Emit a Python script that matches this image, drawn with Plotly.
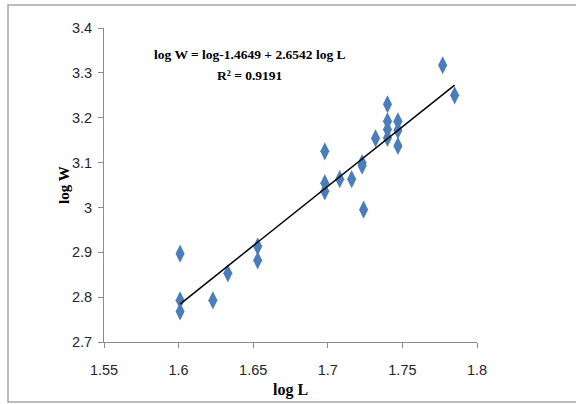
import plotly.graph_objects as go

# Data
log_L = [1.601, 1.601, 1.601, 1.623, 1.633, 1.653, 1.653,
         1.698, 1.698, 1.698, 1.708, 1.716, 1.723, 1.723, 1.724,
         1.732, 1.740, 1.740, 1.740, 1.740, 1.747, 1.747, 1.747,
         1.777, 1.785]
log_W = [2.897, 2.793, 2.768, 2.793, 2.853, 2.913, 2.882,
         3.125, 3.054, 3.036, 3.063, 3.063, 3.099, 3.093, 2.995,
         3.154, 3.230, 3.192, 3.174, 3.155, 3.192, 3.172, 3.137,
         3.317, 3.250]

# Regression coefficients as printed on the chart
intercept = -1.4649
slope = 2.6542
r2 = 0.9191

x_ticks = [1.55, 1.6, 1.65, 1.7, 1.75, 1.8]
x_labels = ["1.55", "1.6", "1.65", "1.7", "1.75", "1.8"]
y_ticks = [2.7, 2.8, 2.9, 3.0, 3.1, 3.2, 3.3, 3.4]
y_labels = ["2.7", "2.8", "2.9", "3", "3.1", "3.2", "3.3", "3.4"]

x_fit = [min(log_L), max(log_L)]
y_fit = [intercept + slope * v for v in x_fit]

fig = go.Figure()
fig.add_trace(go.Scatter(
    x=log_L, y=log_W, mode="markers",
    marker=dict(symbol="diamond-tall", size=13, color="#4A7EBB",
                line=dict(width=0)),
    showlegend=False, cliponaxis=False))
fig.add_trace(go.Scatter(
    x=x_fit, y=y_fit, mode="lines",
    line=dict(color="black", width=1.5),
    showlegend=False))

tick_font = dict(family="Liberation Sans Narrow, Arial Narrow, sans-serif",
                 size=14.5, color="#262626")
title_font = dict(family="Liberation Serif, Times New Roman, serif",
                  size=15, color="black")
eq_font = dict(family="Liberation Serif, Times New Roman, serif",
               size=13.5, color="black")

fig.update_layout(
    width=576, height=404,
    margin=dict(l=104, r=99, t=28, b=62),
    paper_bgcolor="white", plot_bgcolor="white",
    xaxis=dict(range=[1.55, 1.8], tickvals=x_ticks, ticktext=x_labels,
               showgrid=False, zeroline=False, showline=True,
               linecolor="#8c8c8c", linewidth=1,
               ticks="outside", ticklen=5, tickcolor="#8c8c8c",
               ticklabelstandoff=10,
               tickfont=tick_font, fixedrange=True),
    yaxis=dict(range=[2.7, 3.4], tickvals=y_ticks, ticktext=y_labels,
               showgrid=False, zeroline=False, showline=True,
               linecolor="#8c8c8c", linewidth=1,
               ticks="outside", ticklen=5, tickcolor="#8c8c8c",
               ticklabelstandoff=3,
               tickfont=tick_font, fixedrange=True),
    annotations=[
        dict(text="<b>log L</b>", xref="paper", yref="paper",
             x=(290 - 104) / 373, y=-(390 - 342) / 314,
             xanchor="center", yanchor="middle", showarrow=False,
             font=dict(family=title_font["family"], size=16, color="black")),
        dict(text="<b>log W</b>", xref="paper", yref="paper",
             x=(64 - 104) / 373, y=1 - (185 - 28) / 314,
             xanchor="center", yanchor="middle", showarrow=False,
             textangle=-90, font=title_font),
        dict(text="<b>log W = log%.4f + %.4f log L</b>" % (intercept, slope),
             xref="paper", yref="paper",
             x=(250 - 104) / 373, y=1 - (55 - 28) / 314,
             xanchor="center", yanchor="middle", showarrow=False,
             font=eq_font),
        dict(text="<b>R² = %.4f</b>" % r2,
             xref="paper", yref="paper",
             x=(250 - 104) / 373, y=1 - (76 - 28) / 314,
             xanchor="center", yanchor="middle", showarrow=False,
             font=eq_font),
    ],
    shapes=[
        dict(type="rect", xref="paper", yref="paper",
             x0=(8 - 104) / 373, x1=(590 - 104) / 373,
             y0=-(402 - 342) / 314, y1=1 + (28 - 5) / 314,
             line=dict(color="#a6a6a6", width=1.5)),
    ],
)

fig.write_html("out.html")
